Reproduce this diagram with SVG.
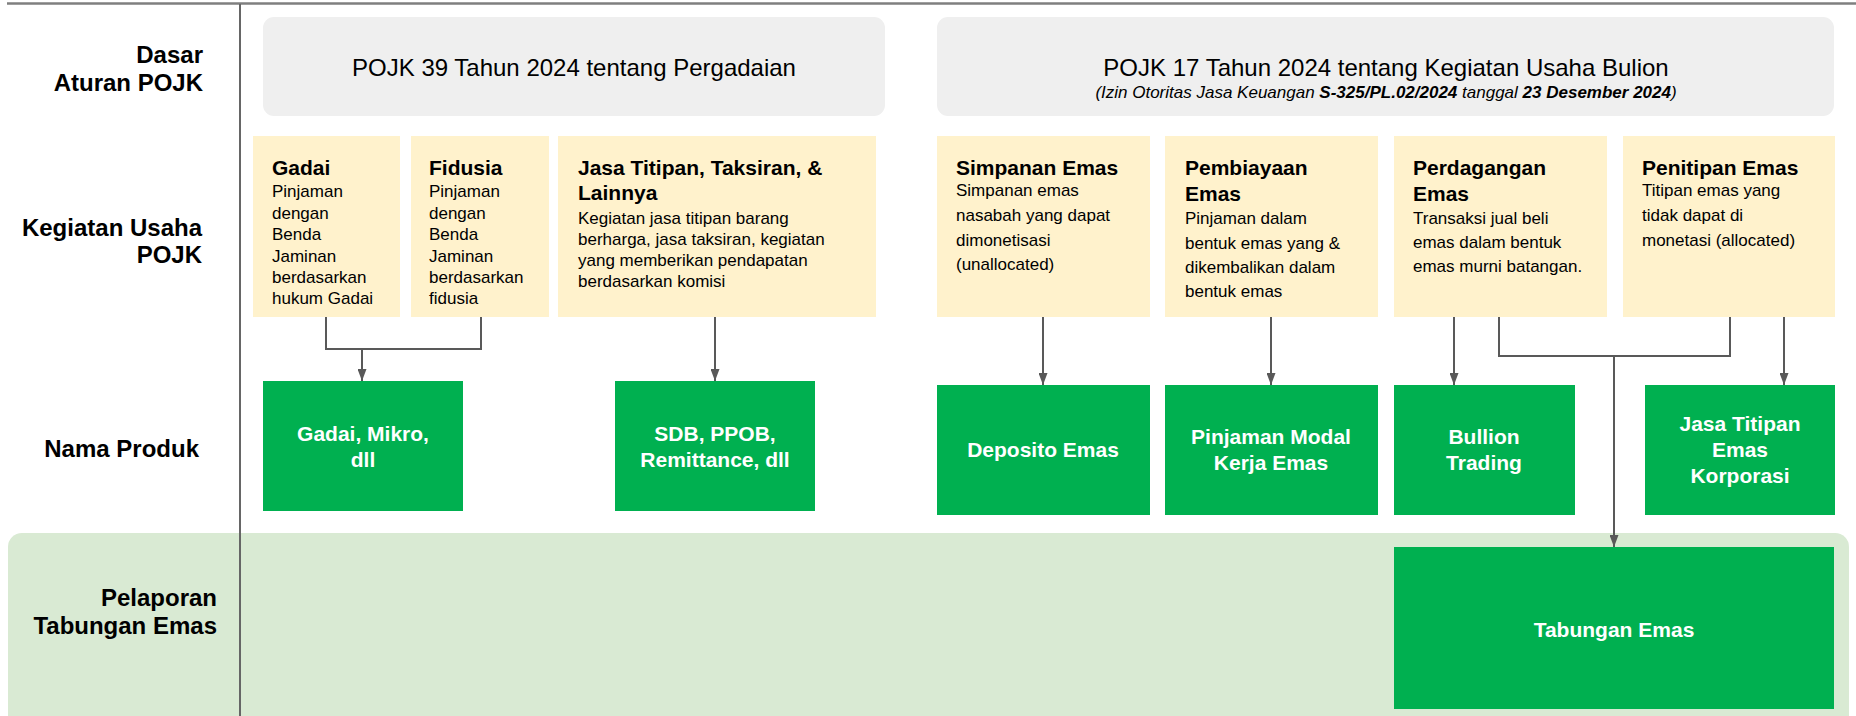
<svg xmlns="http://www.w3.org/2000/svg" width="1856" height="716" viewBox="0 0 1856 716">
<defs>
<style>
.lbl{font-family:"Liberation Sans",Arial,sans-serif;font-weight:bold;font-size:24px;fill:#000;text-anchor:end}
.reg{fill:#efefef}
.act{fill:#fff2cc}
.prd{fill:#00b050}
.rt{font-family:"Liberation Sans",Arial,sans-serif;font-size:24px;fill:#000;text-anchor:middle}
.sub{font-family:"Liberation Sans",Arial,sans-serif;font-size:17px;font-style:italic;fill:#000;text-anchor:middle}
.at{font-family:"Liberation Sans",Arial,sans-serif;font-weight:bold;font-size:21px;fill:#000}
.ab{font-family:"Liberation Sans",Arial,sans-serif;font-size:17px;fill:#000}
.pt{font-family:"Liberation Sans",Arial,sans-serif;font-weight:bold;font-size:21px;fill:#fff;text-anchor:middle}
.cn{fill:none;stroke:#595959;stroke-width:2}
</style>
<marker id="ah" viewBox="0 0 12 9" refX="12" refY="4.5" markerWidth="12" markerHeight="9" markerUnits="userSpaceOnUse" orient="auto">
<path d="M0,0 L12,4.5 L0,9 z" fill="#595959"/>
</marker>
</defs>
<rect width="1856" height="716" fill="#fff"/>
<g id="band">
<rect x="8" y="533" width="1841" height="200" rx="14" fill="#d9ead3"/>
</g>
<g id="frame">
<line x1="7" y1="3.5" x2="1856" y2="3.5" stroke="#7f7f7f" stroke-width="2.5"/>
<line x1="240" y1="4" x2="240" y2="716" stroke="#666" stroke-width="2"/>
</g>
<g id="row-labels">
<text class="lbl" x="203" y="63">Dasar</text>
<text class="lbl" x="203" y="91">Aturan POJK</text>
<text class="lbl" x="202" y="236">Kegiatan Usaha</text>
<text class="lbl" x="202" y="263">POJK</text>
<text class="lbl" x="199" y="457">Nama Produk</text>
<text class="lbl" x="217" y="606">Pelaporan</text>
<text class="lbl" x="217" y="634">Tabungan Emas</text>
</g>
<g id="pojk39">
<rect class="reg" x="263" y="17" width="622" height="99" rx="11"/>
<text class="rt" x="574" y="76">POJK 39 Tahun 2024 tentang Pergadaian</text>
</g>
<g id="pojk17">
<rect class="reg" x="937" y="17" width="897" height="99" rx="11"/>
<text class="rt" x="1386" y="76">POJK 17 Tahun 2024 tentang Kegiatan Usaha Bulion</text>
<text class="sub" x="1386" y="98">(Izin Otoritas Jasa Keuangan <tspan font-weight="bold">S-325/PL.02/2024</tspan> tanggal <tspan font-weight="bold">23 Desember 2024</tspan>)</text>
</g>
<g id="gadai">
<rect class="act" x="253" y="136" width="147" height="181"/>
<text class="at" x="272" y="175">Gadai</text>
<text class="ab" x="272"><tspan x="272" y="197">Pinjaman</tspan><tspan x="272" y="219">dengan</tspan><tspan x="272" y="240">Benda</tspan><tspan x="272" y="262">Jaminan</tspan><tspan x="272" y="283">berdasarkan</tspan><tspan x="272" y="304">hukum Gadai</tspan></text>
</g>
<g id="fidusia">
<rect class="act" x="411" y="136" width="138" height="181"/>
<text class="at" x="429" y="175">Fidusia</text>
<text class="ab"><tspan x="429" y="197">Pinjaman</tspan><tspan x="429" y="219">dengan</tspan><tspan x="429" y="240">Benda</tspan><tspan x="429" y="262">Jaminan</tspan><tspan x="429" y="283">berdasarkan</tspan><tspan x="429" y="304">fidusia</tspan></text>
</g>
<g id="jasa">
<rect class="act" x="558" y="136" width="318" height="181"/>
<text class="at"><tspan x="578" y="175">Jasa Titipan, Taksiran, &amp;</tspan><tspan x="578" y="200">Lainnya</tspan></text>
<text class="ab"><tspan x="578" y="224">Kegiatan jasa titipan barang</tspan><tspan x="578" y="245">berharga, jasa taksiran, kegiatan</tspan><tspan x="578" y="266">yang memberikan pendapatan</tspan><tspan x="578" y="287">berdasarkan komisi</tspan></text>
</g>
<g id="simpanan">
<rect class="act" x="937" y="136" width="213" height="181"/>
<text class="at" x="956" y="175">Simpanan Emas</text>
<text class="ab"><tspan x="956" y="196">Simpanan emas</tspan><tspan x="956" y="221">nasabah yang dapat</tspan><tspan x="956" y="246">dimonetisasi</tspan><tspan x="956" y="270">(unallocated)</tspan></text>
</g>
<g id="pembiayaan">
<rect class="act" x="1165" y="136" width="213" height="181"/>
<text class="at"><tspan x="1185" y="175">Pembiayaan</tspan><tspan x="1185" y="201">Emas</tspan></text>
<text class="ab"><tspan x="1185" y="224">Pinjaman dalam</tspan><tspan x="1185" y="249">bentuk emas yang &amp;</tspan><tspan x="1185" y="273">dikembalikan dalam</tspan><tspan x="1185" y="297">bentuk emas</tspan></text>
</g>
<g id="perdagangan">
<rect class="act" x="1394" y="136" width="213" height="181"/>
<text class="at"><tspan x="1413" y="175">Perdagangan</tspan><tspan x="1413" y="201">Emas</tspan></text>
<text class="ab"><tspan x="1413" y="224">Transaksi jual beli</tspan><tspan x="1413" y="248">emas dalam bentuk</tspan><tspan x="1413" y="272">emas murni batangan.</tspan></text>
</g>
<g id="penitipan">
<rect class="act" x="1623" y="136" width="212" height="181"/>
<text class="at" x="1642" y="175">Penitipan Emas</text>
<text class="ab"><tspan x="1642" y="196">Titipan emas yang</tspan><tspan x="1642" y="221">tidak dapat di</tspan><tspan x="1642" y="246">monetasi (allocated)</tspan></text>
</g>
<g id="p-gadai">
<rect class="prd" x="263" y="381" width="200" height="130"/>
<text class="pt"><tspan x="363" y="441">Gadai, Mikro,</tspan><tspan x="363" y="467">dll</tspan></text>
</g>
<g id="p-sdb">
<rect class="prd" x="615" y="381" width="200" height="130"/>
<text class="pt"><tspan x="715" y="441">SDB, PPOB,</tspan><tspan x="715" y="467">Remittance, dll</tspan></text>
</g>
<g id="p-deposito">
<rect class="prd" x="937" y="385" width="213" height="130"/>
<text class="pt" x="1043" y="457">Deposito Emas</text>
</g>
<g id="p-pinjaman">
<rect class="prd" x="1165" y="385" width="213" height="130"/>
<text class="pt"><tspan x="1271" y="444">Pinjaman Modal</tspan><tspan x="1271" y="470">Kerja Emas</tspan></text>
</g>
<g id="p-bullion">
<rect class="prd" x="1394" y="385" width="181" height="130"/>
<text class="pt"><tspan x="1484" y="444">Bullion</tspan><tspan x="1484" y="470">Trading</tspan></text>
</g>
<g id="p-jasa-titipan">
<rect class="prd" x="1645" y="385" width="190" height="130"/>
<text class="pt"><tspan x="1740" y="431">Jasa Titipan</tspan><tspan x="1740" y="457">Emas</tspan><tspan x="1740" y="483">Korporasi</tspan></text>
</g>
<g id="p-tabungan">
<rect class="prd" x="1394" y="547" width="440" height="162"/>
<text class="pt" x="1614" y="637">Tabungan Emas</text>
</g>
<g id="connectors">
<path class="cn" d="M326,317 V349 H481 V317"/>
<path class="cn" d="M362,349 V381" marker-end="url(#ah)"/>
<path class="cn" d="M715,317 V381" marker-end="url(#ah)"/>
<path class="cn" d="M1043,317 V385" marker-end="url(#ah)"/>
<path class="cn" d="M1271,317 V385" marker-end="url(#ah)"/>
<path class="cn" d="M1454,317 V385" marker-end="url(#ah)"/>
<path class="cn" d="M1499,317 V356 H1730 V317"/>
<path class="cn" d="M1614,356 V547" marker-end="url(#ah)"/>
<path class="cn" d="M1784,317 V385" marker-end="url(#ah)"/>
</g>
</svg>
